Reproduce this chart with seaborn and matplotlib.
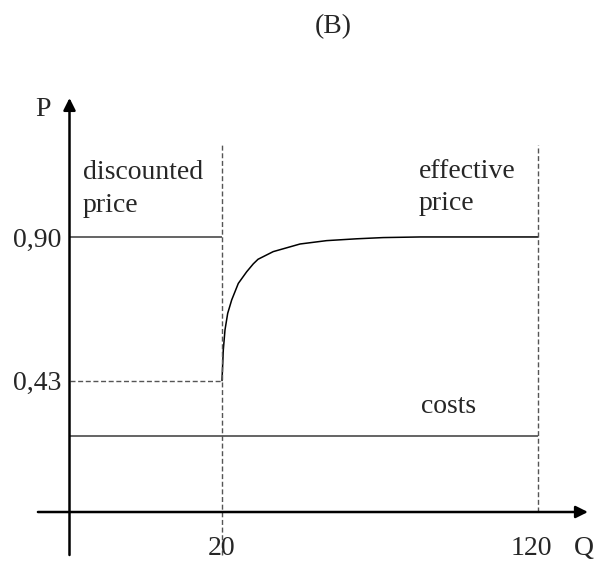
import numpy as np
import pandas as pd
import matplotlib
matplotlib.use("Agg")
import matplotlib.pyplot as plt
import seaborn as sns

q_marks = [20, 120]
q_labels = ["20", "120"]
p_marks = [0.43, 0.90]
p_labels = ["0,43", "0,90"]
cost_level = 0.25
curve_q = [20, 20.41, 20.95, 21.8, 23.07, 25.16, 27.8, 29.9, 31.4, 36.2,
           44.7, 53.1, 62.6, 71.0, 82.7, 120]
curve_p = [0.43, 0.530, 0.596, 0.650, 0.694, 0.748, 0.786, 0.812, 0.827, 0.852,
           0.877, 0.888, 0.894, 0.898, 0.90, 0.90]

sns.set_style("white")
plt.rcParams["font.family"] = ["Liberation Serif", "DejaVu Serif"]

# schematic Q axis: 0..20 is stretched compared with 20..120
def fwd(q):
    q = np.asarray(q, dtype=float)
    return np.where(q <= 20, q * 7.625, 152.5 + (q - 20) * 3.16)

def inv(u):
    u = np.asarray(u, dtype=float)
    return np.where(u <= 152.5, u / 7.625, 20 + (u - 152.5) / 3.16)

fig = plt.figure(figsize=(5.95, 5.65), dpi=100)
ax = fig.add_axes([0, 0, 1, 1])
ax.set_xscale("function", functions=(fwd, inv))
ax.set_xlim(-9.115, 138.04)
ax.set_ylim(-0.1734, 1.6754)
ax.axis("off")

line_col = "#3a3a3a"
dash_col = "#555555"
fs = 20

# effective price curve
curve = pd.DataFrame({"Q": curve_q, "P": curve_p})
sns.lineplot(data=curve, x="Q", y="P", ax=ax, color="black", lw=1.1, sort=False)

# discounted price and costs
ax.hlines(p_marks[1], 0, q_marks[0], color=line_col, lw=1.1)
ax.hlines(cost_level, 0, q_marks[1], color=line_col, lw=1.1)
ax.hlines(p_marks[0], 0, q_marks[0], color=dash_col, lw=1.0, linestyles=(0, (3.6, 1.9)))

# vertical dashed guides
ax.vlines(q_marks[0], -0.1407, 1.201, color=dash_col, lw=1.0, linestyles=(0, (3.6, 1.9)))
ax.vlines(q_marks[1], 0, 1.201, color=dash_col, lw=1.0, linestyles=(0, (3.6, 1.9)))

# axes with arrows
arrow = dict(arrowstyle="-|>", color="black", lw=1.8, mutation_scale=18, shrinkA=0, shrinkB=0)
ax.annotate("", xy=(0, 1.3547), xytext=(0, -0.1407), arrowprops=arrow)
ax.annotate("", xy=(135.8, 0), xytext=(-4.14, 0), arrowprops=arrow)

# labels
ax.text(-3.48, 1.296, "P", fontsize=fs, ha="center", va="baseline")
for p, lab in zip(p_marks, p_labels):
    ax.text(-1.11, p, lab, fontsize=fs, ha="right", va="center_baseline")
ax.text(q_marks[0], -0.1407, q_labels[0], fontsize=fs, ha="center", va="baseline")
ax.text(118.0, -0.1407, q_labels[1], fontsize=fs, ha="center", va="baseline")
ax.text(134.4, -0.1407, "Q", fontsize=fs, ha="center", va="baseline")

ax.text(1.77, 1.0897, "discounted", fontsize=fs, ha="left", va="baseline")
ax.text(1.77, 0.9817, "price", fontsize=fs, ha="left", va="baseline")
ax.text(82.3, 1.093, "effective", fontsize=fs, ha="left", va="baseline")
ax.text(82.3, 0.988, "price", fontsize=fs, ha="left", va="baseline")
ax.text(82.9, 0.324, "costs", fontsize=fs, ha="left", va="baseline")

fig.text(333 / 595, 1 - 33 / 565, "(B)", fontsize=fs, ha="center", va="baseline")

fig.savefig("out.png", dpi=100, facecolor="white")
